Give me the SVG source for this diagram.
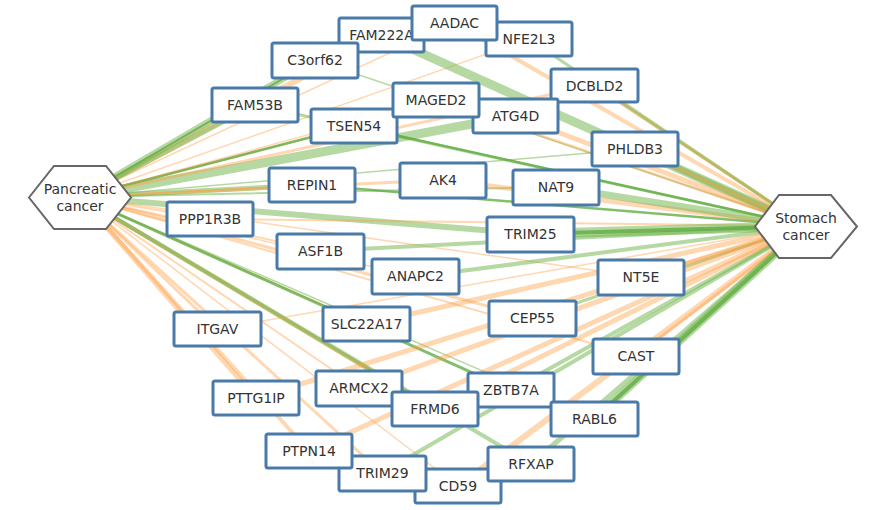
<svg xmlns="http://www.w3.org/2000/svg" width="886" height="510" viewBox="0 0 886 510">
<style>
.e{fill:none;stroke-linecap:round}
.g{stroke:#6db34a;stroke-opacity:.5}
.o{stroke:#ff9a3c;stroke-opacity:.4}
.d{stroke:#5aa83a;stroke-opacity:.75}
.n rect{fill:#fff;stroke:#4a7aa8;stroke-width:3}
.n text,.h text{font-family:"DejaVu Sans","Liberation Sans",sans-serif;font-size:14px;fill:#333;text-anchor:middle}
.h polygon{fill:#fff;stroke:#666;stroke-width:2}
</style>
<rect width="886" height="510" fill="#fff"/>
<g id="edges" class="e">
<!-- Pancreatic cancer edges -->
<line class="o" x1="80" y1="197" x2="381" y2="35" stroke-width="6"/>
<line class="o" x1="80" y1="197" x2="454" y2="23" stroke-width="1.5"/>
<line class="o" x1="80" y1="197" x2="529" y2="39" stroke-width="1.5"/>
<line class="g" x1="80" y1="197" x2="315" y2="60" stroke-width="7"/>
<line class="d" x1="80" y1="197" x2="315" y2="60" stroke-width="2"/>
<line class="g" x1="80" y1="197" x2="255" y2="105" stroke-width="5"/>
<line class="o" x1="80" y1="197" x2="354" y2="126" stroke-width="2"/>
<line class="d" x1="80" y1="197" x2="354" y2="126" stroke-width="2.5"/>
<line class="o" x1="80" y1="197" x2="436" y2="100" stroke-width="1.5"/>
<line class="g" x1="80" y1="197" x2="515" y2="116" stroke-width="9"/>
<line class="o" x1="80" y1="197" x2="594" y2="85" stroke-width="3"/>
<line class="g" x1="80" y1="197" x2="635" y2="149" stroke-width="1.5"/>
<line class="g" x1="80" y1="197" x2="312" y2="185" stroke-width="5"/>
<line class="o" x1="80" y1="197" x2="312" y2="185" stroke-width="2"/>
<line class="o" x1="80" y1="197" x2="443" y2="180" stroke-width="3"/>
<line class="g" x1="80" y1="197" x2="556" y2="187" stroke-width="2"/>
<line class="o" x1="80" y1="197" x2="210" y2="219" stroke-width="2"/>
<line class="o" x1="80" y1="197" x2="320" y2="251" stroke-width="2"/>
<line class="g" x1="80" y1="197" x2="530" y2="234" stroke-width="6"/>
<line class="o" x1="80" y1="197" x2="415" y2="277" stroke-width="1.5"/>
<line class="o" x1="80" y1="197" x2="641" y2="277" stroke-width="1.5"/>
<line class="o" x1="80" y1="197" x2="532" y2="318" stroke-width="3"/>
<line class="o" x1="80" y1="197" x2="366" y2="324" stroke-width="2"/>
<line class="o" x1="80" y1="197" x2="217" y2="329" stroke-width="3"/>
<line class="o" x1="80" y1="197" x2="636" y2="356" stroke-width="2"/>
<line class="d" x1="80" y1="197" x2="511" y2="390" stroke-width="3"/>
<line class="o" x1="80" y1="197" x2="359" y2="388" stroke-width="2"/>
<line class="g" x1="80" y1="197" x2="435" y2="409" stroke-width="4"/>
<line class="o" x1="80" y1="197" x2="435" y2="409" stroke-width="4"/>
<line class="o" x1="80" y1="197" x2="256" y2="398" stroke-width="5"/>
<line class="g" x1="80" y1="197" x2="594" y2="419" stroke-width="1.5"/>
<line class="o" x1="80" y1="197" x2="309" y2="451" stroke-width="4"/>
<line class="o" x1="80" y1="197" x2="382" y2="473" stroke-width="3"/>
<line class="o" x1="80" y1="197" x2="458" y2="486" stroke-width="1.5"/>
<line class="g" x1="80" y1="197" x2="531" y2="464" stroke-width="4"/>
<!-- Stomach cancer edges -->
<line class="g" x1="806" y1="226" x2="381" y2="35" stroke-width="9"/>
<line class="o" x1="806" y1="226" x2="454" y2="23" stroke-width="4"/>
<line class="g" x1="806" y1="226" x2="529" y2="39" stroke-width="3"/>
<line class="g" x1="806" y1="226" x2="315" y2="60" stroke-width="1.5"/>
<line class="g" x1="806" y1="226" x2="255" y2="105" stroke-width="3"/>
<line class="d" x1="806" y1="226" x2="354" y2="126" stroke-width="2.5"/>
<line class="o" x1="806" y1="226" x2="436" y2="100" stroke-width="3"/>
<line class="o" x1="806" y1="226" x2="515" y2="116" stroke-width="5"/>
<line class="g" x1="806" y1="226" x2="594" y2="85" stroke-width="3"/>
<line class="o" x1="806" y1="226" x2="594" y2="85" stroke-width="3"/>
<line class="g" x1="806" y1="226" x2="635" y2="149" stroke-width="6"/>
<line class="o" x1="806" y1="226" x2="635" y2="149" stroke-width="4"/>
<line class="d" x1="806" y1="226" x2="312" y2="185" stroke-width="2.5"/>
<line class="o" x1="806" y1="226" x2="443" y2="180" stroke-width="5"/>
<line class="g" x1="806" y1="226" x2="556" y2="187" stroke-width="7"/>
<line class="o" x1="806" y1="226" x2="210" y2="219" stroke-width="2"/>
<line class="g" x1="806" y1="226" x2="320" y2="251" stroke-width="4"/>
<line class="g" x1="806" y1="226" x2="530" y2="234" stroke-width="10"/>
<line class="d" x1="806" y1="226" x2="530" y2="234" stroke-width="4"/>
<line class="g" x1="806" y1="226" x2="415" y2="277" stroke-width="4"/>
<line class="o" x1="806" y1="226" x2="641" y2="277" stroke-width="3"/>
<line class="g" x1="806" y1="226" x2="532" y2="318" stroke-width="3"/>
<line class="o" x1="806" y1="226" x2="366" y2="324" stroke-width="5"/>
<line class="o" x1="806" y1="226" x2="217" y2="329" stroke-width="1.5"/>
<line class="o" x1="806" y1="226" x2="636" y2="356" stroke-width="3"/>
<line class="g" x1="806" y1="226" x2="511" y2="390" stroke-width="4"/>
<line class="o" x1="806" y1="226" x2="359" y2="388" stroke-width="5"/>
<line class="o" x1="806" y1="226" x2="435" y2="409" stroke-width="5"/>
<line class="o" x1="806" y1="226" x2="256" y2="398" stroke-width="5"/>
<line class="g" x1="806" y1="226" x2="594" y2="419" stroke-width="8"/>
<line class="d" x1="806" y1="226" x2="594" y2="419" stroke-width="4"/>
<line class="o" x1="806" y1="226" x2="309" y2="451" stroke-width="5"/>
<line class="g" x1="806" y1="226" x2="382" y2="473" stroke-width="4"/>
<line class="o" x1="806" y1="226" x2="458" y2="486" stroke-width="6"/>
<line class="g" x1="806" y1="226" x2="531" y2="464" stroke-width="5"/>
</g>
<g id="pancreatic" class="h"><polygon points="29,197.5 54,166 106,166 131,197.5 106,229 54,229"/><text x="80" y="194">Pancreatic</text><text x="80" y="211">cancer</text></g>
<g id="stomach" class="h"><polygon points="755,226.5 779,195 831,195 857,226.5 831,258 779,258"/><text x="806" y="223">Stomach</text><text x="806" y="240">cancer</text></g>
<g id="FAM222A" class="n"><rect x="339" y="18" width="85" height="34" rx="2"/><text x="381.5" y="40">FAM222A</text></g>
<g id="NFE2L3" class="n"><rect x="486" y="22" width="86" height="34" rx="2"/><text x="529" y="44">NFE2L3</text></g>
<g id="AADAC" class="n"><rect x="412" y="6" width="85" height="34" rx="2"/><text x="454.5" y="28">AADAC</text></g>
<g id="C3orf62" class="n"><rect x="272" y="43" width="86" height="35" rx="2"/><text x="315" y="65">C3orf62</text></g>
<g id="FAM53B" class="n"><rect x="212" y="88" width="86" height="34" rx="2"/><text x="255" y="110">FAM53B</text></g>
<g id="TSEN54" class="n"><rect x="311" y="109" width="86" height="34" rx="2"/><text x="354" y="131">TSEN54</text></g>
<g id="DCBLD2" class="n"><rect x="551" y="69" width="87" height="33" rx="2"/><text x="594.5" y="90.5">DCBLD2</text></g>
<g id="ATG4D" class="n"><rect x="473" y="99" width="85" height="34" rx="2"/><text x="515.5" y="121">ATG4D</text></g>
<g id="MAGED2" class="n"><rect x="393" y="83" width="86" height="34" rx="2"/><text x="436" y="105">MAGED2</text></g>
<g id="PHLDB3" class="n"><rect x="592" y="132" width="86" height="34" rx="2"/><text x="635" y="154">PHLDB3</text></g>
<g id="REPIN1" class="n"><rect x="269" y="168" width="86" height="34" rx="2"/><text x="312" y="190">REPIN1</text></g>
<g id="AK4" class="n"><rect x="400" y="163" width="86" height="35" rx="2"/><text x="443" y="185">AK4</text></g>
<g id="NAT9" class="n"><rect x="513" y="170" width="86" height="35" rx="2"/><text x="556" y="192">NAT9</text></g>
<g id="PPP1R3B" class="n"><rect x="167" y="202" width="86" height="34" rx="2"/><text x="210" y="224">PPP1R3B</text></g>
<g id="TRIM25" class="n"><rect x="487" y="217" width="87" height="35" rx="2"/><text x="530.5" y="239">TRIM25</text></g>
<g id="ASF1B" class="n"><rect x="277" y="234" width="87" height="35" rx="2"/><text x="320.5" y="256">ASF1B</text></g>
<g id="ANAPC2" class="n"><rect x="372" y="259" width="87" height="35" rx="2"/><text x="415.5" y="281">ANAPC2</text></g>
<g id="NT5E" class="n"><rect x="598" y="260" width="86" height="35" rx="2"/><text x="641" y="282">NT5E</text></g>
<g id="CEP55" class="n"><rect x="489" y="301" width="87" height="35" rx="2"/><text x="532.5" y="323">CEP55</text></g>
<g id="SLC22A17" class="n"><rect x="323" y="307" width="87" height="34" rx="2"/><text x="366.5" y="329">SLC22A17</text></g>
<g id="ITGAV" class="n"><rect x="174" y="312" width="87" height="34" rx="2"/><text x="217.5" y="334">ITGAV</text></g>
<g id="CAST" class="n"><rect x="593" y="339" width="86" height="35" rx="2"/><text x="636" y="361">CAST</text></g>
<g id="ARMCX2" class="n"><rect x="316" y="371" width="86" height="35" rx="2"/><text x="359" y="393">ARMCX2</text></g>
<g id="ZBTB7A" class="n"><rect x="468" y="373" width="86" height="34" rx="2"/><text x="511" y="395">ZBTB7A</text></g>
<g id="FRMD6" class="n"><rect x="392" y="392" width="86" height="34" rx="2"/><text x="435" y="414">FRMD6</text></g>
<g id="RABL6" class="n"><rect x="551" y="402" width="87" height="34" rx="2"/><text x="594.5" y="424">RABL6</text></g>
<g id="PTTG1IP" class="n"><rect x="213" y="381" width="86" height="34" rx="2"/><text x="256" y="403">PTTG1IP</text></g>
<g id="CD59" class="n"><rect x="415" y="469" width="86" height="34" rx="2"/><text x="458" y="491">CD59</text></g>
<g id="TRIM29" class="n"><rect x="339" y="456" width="87" height="35" rx="2"/><text x="382.5" y="478">TRIM29</text></g>
<g id="PTPN14" class="n"><rect x="266" y="434" width="86" height="34" rx="2"/><text x="309" y="456">PTPN14</text></g>
<g id="RFXAP" class="n"><rect x="488" y="447" width="86" height="34" rx="2"/><text x="531" y="469">RFXAP</text></g>
</svg>
